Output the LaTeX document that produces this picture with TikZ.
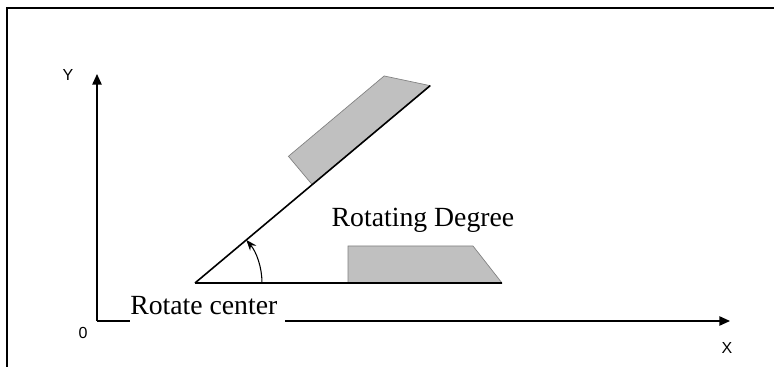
\documentclass[tikz,border=0pt]{standalone}
\usepackage{fontspec}
\setmainfont{Liberation Serif}
\newfontfamily\axisfont{Liberation Sans}
\usetikzlibrary{arrows.meta,calc}
\definecolor{partgray}{HTML}{C0C0C0}
\newcommand{\workpiece}[2]{% trapezoid part lying on the arm, turned by #2 about (#1)
  \begin{scope}[shift={(#1)},rotate=#2]
    \filldraw[fill=partgray,draw=gray,line width=0.5pt]
      (153,0) -- (307,0) -- (278,37) -- (153,37) -- cycle;
  \end{scope}
}

\begin{document}
\begin{tikzpicture}[x=0.75pt,y=0.75pt,
  axis/.style={line width=1.2pt,-{Triangle[length=8pt,width=7pt]}},
  arm/.style={line width=1.2pt},
  axislabel/.style={font=\axisfont\fontsize{12}{14}\selectfont,inner sep=0pt},
  biglabel/.style={font=\fontsize{20.8}{24}\selectfont,inner sep=0pt}]
  \useasboundingbox (0,0) rectangle (774,367);
  % frame
  \draw[line width=1.2pt] (7,0) -- (7,359) -- (774,359);
  \coordinate (O) at (97,46);
  \coordinate (ytip) at (97,293);
  \coordinate (xtip) at (730,46);
  \coordinate (C) at (195,84);
  \coordinate (hend) at ($(C)+(307,0)$);
  \coordinate (dend) at ($(C)+(40:307)$);
  % the part before and after turning
  \workpiece{C}{0}
  \workpiece{C}{40}
  \draw[arm] (C) -- (hend);
  \draw[arm] (C) -- (dend);
  \draw[line width=0.8pt,-{Stealth[length=8pt,width=6pt]}]
    ($(C)+(67,0)$) arc[start angle=0,end angle=40,radius=67];
  \node[biglabel,anchor=base] (degree) at (423,140) {Rotating Degree};
  % axes
  \draw[axis] (O) -- (ytip);
  \draw[axis] (O) -- (xtip);
  \node[axislabel] (ylab) at (68,292) {Y};
  \node[axislabel] (xlab) at (727,19) {X};
  \node[axislabel] (zero) at (83,34) {0};
  \node[biglabel,fill=white,anchor=base west,text width=116pt,align=flush left,
    text height=15pt,text depth=5pt,inner ysep=2pt] (center) at (130,52) {Rotate center};
\end{tikzpicture}
\end{document}
